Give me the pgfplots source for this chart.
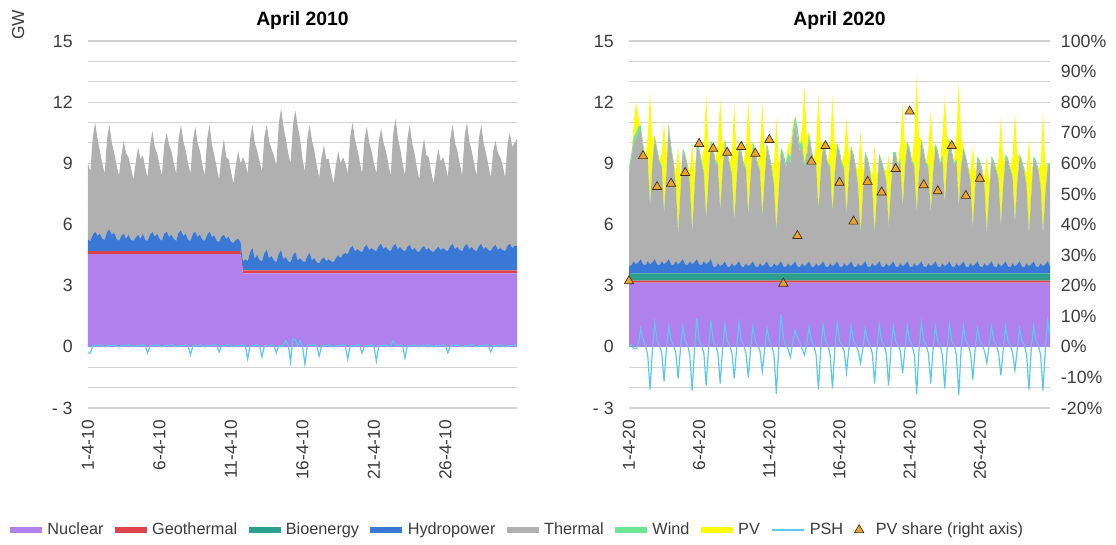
\documentclass[border=0pt]{standalone}
\usepackage{pgfplots}
\pgfplotsset{compat=1.18}
\usepackage{pgfplotstable}
\usepackage{fontspec}
\setmainfont{Liberation Sans}
\definecolor{nucc}{RGB}{176,128,236}
\definecolor{geoc}{RGB}{222,66,74}
\definecolor{bioc}{RGB}{42,160,140}
\definecolor{hydc}{RGB}{58,120,214}
\definecolor{thec}{RGB}{176,176,176}
\definecolor{winc}{RGB}{110,230,150}
\definecolor{pvc}{RGB}{252,252,10}
\definecolor{pshc}{RGB}{90,200,240}
\definecolor{tric}{RGB}{232,165,50}
\definecolor{trie}{RGB}{70,45,10}
\definecolor{gridc}{RGB}{210,210,210}
\definecolor{tickc}{RGB}{60,60,60}

% April 2010, 4-hourly, GW
\pgfplotstableread{
h nuc geo hyd the psh
0 4.55 0.15 0.55 3.75 -0.30
4 4.55 0.15 0.50 3.40 -0.30
8 4.55 0.15 0.80 4.80 0.05
12 4.55 0.15 0.95 5.35 0.05
16 4.55 0.15 0.75 4.75 0.05
20 4.55 0.15 0.85 4.05 0.10
24 4.55 0.15 0.60 3.70 0.05
28 4.55 0.15 0.55 3.25 0.00
32 4.55 0.15 0.95 4.55 0.05
36 4.55 0.15 1.05 5.15 0.05
40 4.55 0.15 0.80 4.50 0.05
44 4.55 0.15 0.90 3.90 0.10
48 4.55 0.15 0.60 3.60 0.05
52 4.55 0.15 0.50 3.20 0.00
56 4.55 0.15 0.75 3.95 0.05
60 4.55 0.15 0.85 4.55 0.05
64 4.55 0.15 0.60 4.20 0.05
68 4.55 0.15 0.80 3.80 0.10
72 4.55 0.15 0.55 3.55 0.05
76 4.55 0.15 0.50 3.00 0.00
80 4.55 0.15 0.65 3.65 0.05
84 4.55 0.15 0.80 4.30 0.05
88 4.55 0.15 0.60 3.90 0.05
92 4.55 0.15 0.85 3.85 0.10
96 4.55 0.15 0.55 3.55 0.05
100 4.55 0.15 0.50 3.10 -0.30
104 4.55 0.15 0.80 4.30 0.05
108 4.55 0.15 0.95 4.95 0.05
112 4.55 0.15 0.70 4.40 0.05
116 4.55 0.15 0.85 3.95 0.10
120 4.55 0.15 0.60 3.60 0.05
124 4.55 0.15 0.50 3.20 0.00
128 4.55 0.15 0.85 4.35 0.05
132 4.55 0.15 0.95 4.85 0.05
136 4.55 0.15 0.70 4.50 0.05
140 4.55 0.15 0.80 4.10 0.10
144 4.55 0.15 0.60 3.70 0.05
148 4.55 0.15 0.50 3.30 0.00
152 4.55 0.15 0.90 4.60 0.05
156 4.55 0.15 1.00 5.20 0.05
160 4.55 0.15 0.75 4.65 0.05
164 4.55 0.15 0.85 4.05 0.10
168 4.55 0.15 0.55 3.75 0.05
172 4.55 0.15 0.50 3.30 -0.40
176 4.55 0.15 0.85 4.55 0.05
180 4.55 0.15 0.95 5.15 0.05
184 4.55 0.15 0.70 4.60 0.05
188 4.55 0.15 0.80 4.10 0.10
192 4.55 0.15 0.55 3.65 0.05
196 4.55 0.15 0.50 3.20 0.00
200 4.55 0.15 0.80 4.70 0.05
204 4.55 0.15 0.95 5.25 0.05
208 4.55 0.15 0.70 4.50 0.05
212 4.55 0.15 0.75 3.95 0.10
216 4.55 0.15 0.50 3.60 0.05
220 4.55 0.15 0.45 3.05 -0.25
224 4.55 0.15 0.70 4.00 0.05
228 4.55 0.15 0.80 4.70 0.05
232 4.55 0.15 0.60 4.00 0.05
236 4.55 0.15 0.70 3.80 0.10
240 4.55 0.15 0.45 3.45 0.05
244 4.55 0.15 0.40 2.90 0.00
248 4.55 0.15 0.55 3.65 0.05
252 4.55 0.15 0.60 4.30 0.05
256 4.55 0.15 0.45 3.85 0.05
260 3.60 0.15 0.45 5.10 0.10
264 3.60 0.15 0.55 4.70 0.05
268 3.60 0.15 0.45 4.30 -0.60
272 3.60 0.15 0.90 5.55 0.05
276 3.60 0.15 1.10 6.05 0.05
280 3.60 0.15 0.60 5.65 0.05
284 3.60 0.15 0.75 5.10 0.10
288 3.60 0.15 0.50 4.85 0.05
292 3.60 0.15 0.45 4.40 -0.50
296 3.60 0.15 0.85 5.70 0.05
300 3.60 0.15 1.00 6.15 0.05
304 3.60 0.15 0.60 5.75 0.05
308 3.60 0.15 0.70 5.25 0.10
312 3.60 0.15 0.50 5.15 0.05
316 3.60 0.15 0.40 4.75 -0.30
320 3.60 0.15 0.80 6.35 0.05
324 3.60 0.15 1.00 6.95 0.05
328 3.60 0.15 0.55 6.50 0.05
332 3.60 0.15 0.65 5.80 0.30
336 3.60 0.15 0.45 5.30 0.10
340 3.60 0.15 0.40 4.85 -0.75
344 3.60 0.15 0.75 6.40 0.40
348 3.60 0.15 0.90 6.95 0.35
352 3.60 0.15 0.50 6.55 0.05
356 3.60 0.15 0.60 5.85 0.30
360 3.60 0.15 0.45 5.00 0.05
364 3.60 0.15 0.40 4.45 -0.85
368 3.60 0.15 0.70 5.75 0.05
372 3.60 0.15 0.85 6.30 0.10
376 3.60 0.15 0.50 5.85 0.05
380 3.60 0.15 0.60 5.25 0.10
384 3.60 0.15 0.40 4.75 0.05
388 3.60 0.15 0.35 4.20 -0.45
392 3.60 0.15 0.55 5.00 0.05
396 3.60 0.15 0.65 5.50 0.05
400 3.60 0.15 0.45 5.00 0.05
404 3.60 0.15 0.55 4.90 0.10
408 3.60 0.15 0.45 4.40 0.05
412 3.60 0.15 0.40 3.85 0.00
416 3.60 0.15 0.60 4.55 0.05
420 3.60 0.15 0.75 5.10 0.05
424 3.60 0.15 0.60 4.65 0.05
428 3.60 0.15 0.80 4.75 0.10
432 3.60 0.15 0.85 4.40 0.05
436 3.60 0.15 0.80 3.95 -0.60
440 3.60 0.15 1.10 5.45 0.05
444 3.60 0.15 1.20 6.05 0.05
448 3.60 0.15 0.95 5.50 0.05
452 3.60 0.15 1.05 4.90 0.10
456 3.60 0.15 0.95 4.40 0.05
460 3.60 0.15 0.90 3.85 -0.30
464 3.60 0.15 1.15 5.30 0.05
468 3.60 0.15 1.25 5.80 0.05
472 3.60 0.15 1.00 5.25 0.05
476 3.60 0.15 1.10 4.75 0.10
480 3.60 0.15 1.00 4.25 0.05
484 3.60 0.15 0.95 3.80 -0.70
488 3.60 0.15 1.20 5.15 0.05
492 3.60 0.15 1.30 5.65 0.05
496 3.60 0.15 1.05 5.20 0.05
500 3.60 0.15 1.15 4.70 0.10
504 3.60 0.15 1.00 4.25 0.05
508 3.60 0.15 0.95 3.70 0.00
512 3.60 0.15 1.20 5.45 0.30
516 3.60 0.15 1.30 6.15 0.10
520 3.60 0.15 1.05 5.50 0.05
524 3.60 0.15 1.15 4.80 0.10
528 3.60 0.15 1.00 4.25 0.05
532 3.60 0.15 0.95 3.70 -0.55
536 3.60 0.15 1.15 5.30 0.05
540 3.60 0.15 1.25 5.90 0.05
544 3.60 0.15 1.00 5.25 0.05
548 3.60 0.15 1.10 4.65 0.10
552 3.60 0.15 0.95 4.10 0.05
556 3.60 0.15 0.90 3.55 0.00
560 3.60 0.15 1.10 4.65 0.05
564 3.60 0.15 1.20 5.25 0.05
568 3.60 0.15 1.00 4.65 0.05
572 3.60 0.15 1.10 4.45 0.10
576 3.60 0.15 0.95 3.90 0.05
580 3.60 0.15 0.90 3.35 0.00
584 3.60 0.15 1.05 4.20 0.05
588 3.60 0.15 1.15 4.80 0.05
592 3.60 0.15 1.00 4.35 0.05
596 3.60 0.15 1.10 4.45 0.10
600 3.60 0.15 1.00 4.15 0.05
604 3.60 0.15 0.95 3.60 -0.30
608 3.60 0.15 1.20 5.25 0.05
612 3.60 0.15 1.30 5.85 0.05
616 3.60 0.15 1.05 5.20 0.05
620 3.60 0.15 1.15 4.70 0.10
624 3.60 0.15 1.00 4.25 0.05
628 3.60 0.15 0.95 3.70 0.00
632 3.60 0.15 1.20 5.35 0.05
636 3.60 0.15 1.30 5.95 0.05
640 3.60 0.15 1.05 5.30 0.05
644 3.60 0.15 1.15 4.70 0.10
648 3.60 0.15 1.00 4.25 0.05
652 3.60 0.15 0.95 3.70 0.00
656 3.60 0.15 1.20 5.25 0.05
660 3.60 0.15 1.30 5.85 0.05
664 3.60 0.15 1.05 5.20 0.05
668 3.60 0.15 1.15 4.60 0.10
672 3.60 0.15 1.00 4.15 0.05
676 3.60 0.15 0.95 3.60 -0.25
680 3.60 0.15 1.15 4.70 0.05
684 3.60 0.15 1.25 5.10 0.05
688 3.60 0.15 1.00 4.75 0.05
692 3.60 0.15 1.10 4.45 0.10
696 3.60 0.15 1.00 4.15 0.05
700 3.60 0.15 0.95 3.60 0.00
704 3.60 0.15 1.20 4.95 0.05
708 3.60 0.15 1.30 5.45 0.05
712 3.60 0.15 1.10 4.95 0.05
716 3.60 0.15 1.20 5.05 0.10
720 3.60 0.15 1.20 5.25 0.05
}\tabA

% April 2020, 4-hourly, GW
\pgfplotstableread{
h nuc geo bio hyd the wind pv psh
0 3.05 0.10 0.35 0.45 4.65 0.20 0.00 0.00
4 3.15 0.10 0.35 0.40 5.20 0.25 0.00 0.10
8 3.15 0.10 0.35 0.60 5.80 0.30 0.60 -0.10
12 3.15 0.10 0.35 0.45 6.15 0.30 1.50 -0.10
16 3.15 0.10 0.35 0.55 6.35 0.30 0.50 0.10
20 3.15 0.10 0.35 0.70 6.30 0.25 0.00 0.90
24 3.15 0.10 0.35 0.45 5.75 0.20 0.00 0.40
28 3.15 0.10 0.35 0.40 5.20 0.15 0.00 0.10
32 3.15 0.10 0.35 0.60 5.00 0.10 1.00 -0.40
36 3.15 0.10 0.35 0.45 2.85 0.10 5.50 -2.10
40 3.15 0.10 0.35 0.55 4.75 0.10 1.20 -0.20
44 3.15 0.10 0.35 0.70 5.90 0.15 0.00 1.20
48 3.15 0.10 0.35 0.45 5.55 0.15 0.00 0.30
52 3.15 0.10 0.35 0.40 5.00 0.15 0.00 0.10
56 3.15 0.10 0.35 0.60 4.60 0.10 0.60 -0.30
60 3.15 0.10 0.35 0.45 2.45 0.10 4.40 -1.70
64 3.15 0.10 0.35 0.55 4.35 0.10 0.80 -0.10
68 3.15 0.10 0.35 0.70 6.50 0.15 0.00 1.00
72 3.15 0.10 0.35 0.45 5.65 0.15 0.00 0.30
76 3.15 0.10 0.35 0.40 5.00 0.15 0.00 0.10
80 3.15 0.10 0.35 0.60 3.70 0.10 0.50 -0.30
84 3.15 0.10 0.35 0.45 1.45 0.10 4.20 -1.55
88 3.15 0.10 0.35 0.55 3.45 0.10 0.70 -0.10
92 3.15 0.10 0.35 0.70 5.30 0.15 0.00 1.00
96 3.15 0.10 0.35 0.45 5.25 0.15 0.00 0.30
100 3.15 0.10 0.35 0.40 4.80 0.15 0.00 0.10
104 3.15 0.10 0.35 0.60 3.80 0.10 0.50 -0.40
108 3.15 0.10 0.35 0.45 1.55 0.10 4.30 -2.15
112 3.15 0.10 0.35 0.55 3.55 0.10 0.70 -0.10
116 3.15 0.10 0.35 0.70 5.50 0.15 0.00 1.40
120 3.15 0.10 0.35 0.45 5.55 0.15 0.00 0.30
124 3.15 0.10 0.35 0.40 5.00 0.15 0.00 0.10
128 3.15 0.10 0.35 0.60 4.30 0.10 1.10 -0.30
132 3.15 0.10 0.35 0.45 2.15 0.10 6.10 -1.90
136 3.15 0.10 0.35 0.55 4.05 0.10 1.40 -0.10
140 3.15 0.10 0.35 0.70 5.70 0.15 0.00 1.30
144 3.15 0.10 0.35 0.35 5.65 0.15 0.00 0.30
148 3.15 0.10 0.35 0.30 5.10 0.15 0.00 0.10
152 3.15 0.10 0.35 0.50 4.80 0.10 1.00 -0.30
156 3.15 0.10 0.35 0.35 2.65 0.10 5.50 -1.80
160 3.15 0.10 0.35 0.45 4.55 0.10 1.20 -0.10
164 3.15 0.10 0.35 0.60 5.80 0.15 0.00 1.10
168 3.15 0.10 0.35 0.35 5.55 0.15 0.00 0.30
172 3.15 0.10 0.35 0.30 5.00 0.15 0.00 0.10
176 3.15 0.10 0.35 0.50 4.30 0.10 1.00 -0.30
180 3.15 0.10 0.35 0.35 2.15 0.10 5.70 -1.55
184 3.15 0.10 0.35 0.45 4.05 0.10 1.30 -0.10
188 3.15 0.10 0.35 0.60 5.70 0.15 0.00 1.20
192 3.15 0.10 0.35 0.35 5.55 0.15 0.00 0.30
196 3.15 0.10 0.35 0.30 5.00 0.15 0.00 0.10
200 3.15 0.10 0.35 0.50 4.60 0.10 1.00 -0.30
204 3.15 0.10 0.35 0.35 2.45 0.10 5.60 -1.50
208 3.15 0.10 0.35 0.45 4.35 0.10 1.30 -0.10
212 3.15 0.10 0.35 0.60 5.70 0.15 0.00 1.00
216 3.15 0.10 0.35 0.35 5.55 0.15 0.00 0.30
220 3.15 0.10 0.35 0.30 5.00 0.15 0.00 0.10
224 3.15 0.10 0.35 0.50 4.50 0.10 1.00 -0.20
228 3.15 0.10 0.35 0.35 2.35 0.10 5.60 -1.20
232 3.15 0.10 0.35 0.45 4.25 0.10 1.20 -0.10
236 3.15 0.10 0.35 0.60 5.60 0.15 0.00 0.90
240 3.15 0.10 0.35 0.35 5.35 0.15 0.00 0.30
244 3.15 0.10 0.35 0.30 4.80 0.15 0.00 0.10
248 3.15 0.10 0.35 0.50 3.80 0.10 1.00 -0.40
252 3.15 0.10 0.35 0.35 1.65 0.10 5.60 -2.30
256 3.15 0.10 0.35 0.45 3.55 0.10 1.20 -0.10
260 3.15 0.10 0.35 0.60 5.40 0.15 0.00 1.60
264 3.15 0.10 0.35 0.35 5.35 0.20 0.00 0.40
268 3.15 0.10 0.35 0.30 4.90 0.20 0.00 0.10
272 3.15 0.10 0.35 0.50 5.10 0.30 0.40 -0.10
276 3.15 0.10 0.35 0.35 5.05 0.30 0.70 -0.50
280 3.15 0.10 0.35 0.45 6.15 0.35 0.30 0.20
284 3.15 0.10 0.35 0.60 6.80 0.30 0.00 0.80
288 3.15 0.10 0.35 0.35 6.45 0.40 0.00 0.50
292 3.15 0.10 0.35 0.30 5.70 0.30 0.00 0.20
296 3.15 0.10 0.35 0.50 5.70 0.30 0.70 -0.10
300 3.15 0.10 0.35 0.35 4.75 0.30 3.80 -0.40
304 3.15 0.10 0.35 0.45 5.25 0.25 0.80 0.10
308 3.15 0.10 0.35 0.60 6.10 0.20 0.00 1.00
312 3.15 0.10 0.35 0.35 5.65 0.15 0.00 0.30
316 3.15 0.10 0.35 0.30 5.10 0.15 0.00 0.10
320 3.15 0.10 0.35 0.50 4.80 0.10 1.00 -0.40
324 3.15 0.10 0.35 0.35 2.65 0.10 5.70 -2.10
328 3.15 0.10 0.35 0.45 4.55 0.10 1.30 -0.10
332 3.15 0.10 0.35 0.60 5.70 0.15 0.00 1.10
336 3.15 0.10 0.35 0.35 5.55 0.15 0.00 0.30
340 3.15 0.10 0.35 0.30 5.00 0.15 0.00 0.10
344 3.15 0.10 0.35 0.50 4.70 0.10 1.00 -0.40
348 3.15 0.10 0.35 0.35 2.55 0.10 5.70 -2.05
352 3.15 0.10 0.35 0.45 4.45 0.10 1.30 -0.10
356 3.15 0.10 0.35 0.60 5.60 0.15 0.00 1.20
360 3.15 0.10 0.35 0.35 5.55 0.15 0.00 0.30
364 3.15 0.10 0.35 0.30 5.00 0.15 0.00 0.10
368 3.15 0.10 0.35 0.50 4.60 0.10 0.70 -0.20
372 3.15 0.10 0.35 0.35 2.45 0.10 4.80 -1.25
376 3.15 0.10 0.35 0.45 4.35 0.10 0.90 -0.10
380 3.15 0.10 0.35 0.60 5.50 0.15 0.00 1.00
384 3.15 0.10 0.35 0.35 5.35 0.15 0.00 0.30
388 3.15 0.10 0.35 0.30 4.80 0.15 0.00 0.10
392 3.15 0.10 0.35 0.50 3.70 0.10 0.80 -0.20
396 3.15 0.10 0.35 0.35 1.55 0.10 5.00 -0.80
400 3.15 0.10 0.35 0.45 3.45 0.10 1.00 -0.10
404 3.15 0.10 0.35 0.60 5.20 0.15 0.00 0.90
408 3.15 0.10 0.35 0.35 5.15 0.15 0.00 0.30
412 3.15 0.10 0.35 0.30 4.70 0.15 0.00 0.10
416 3.15 0.10 0.35 0.50 3.70 0.10 0.50 -0.30
420 3.15 0.10 0.35 0.35 1.55 0.10 4.20 -1.80
424 3.15 0.10 0.35 0.45 3.45 0.10 0.70 -0.10
428 3.15 0.10 0.35 0.60 5.10 0.15 0.00 1.10
432 3.15 0.10 0.35 0.35 5.05 0.15 0.00 0.30
436 3.15 0.10 0.35 0.30 4.70 0.15 0.00 0.10
440 3.15 0.10 0.35 0.50 4.00 0.10 0.40 -0.30
444 3.15 0.10 0.35 0.35 1.85 0.10 3.50 -1.90
448 3.15 0.10 0.35 0.45 3.75 0.10 0.50 -0.10
452 3.15 0.10 0.35 0.60 5.20 0.15 0.00 1.00
456 3.15 0.10 0.35 0.35 5.45 0.15 0.00 0.30
460 3.15 0.10 0.35 0.30 4.90 0.15 0.00 0.10
464 3.15 0.10 0.35 0.50 5.00 0.10 0.80 -0.20
468 3.15 0.10 0.35 0.35 2.85 0.10 5.10 -1.30
472 3.15 0.10 0.35 0.45 4.75 0.10 1.00 -0.10
476 3.15 0.10 0.35 0.60 5.70 0.15 0.00 1.00
480 3.15 0.10 0.35 0.35 5.65 0.15 0.00 0.30
484 3.15 0.10 0.35 0.30 5.10 0.15 0.00 0.10
488 3.15 0.10 0.35 0.50 4.70 0.10 1.40 -0.40
492 3.15 0.10 0.35 0.35 2.55 0.10 6.70 -2.30
496 3.15 0.10 0.35 0.45 4.45 0.10 1.70 -0.10
500 3.15 0.10 0.35 0.60 5.80 0.15 0.00 1.20
504 3.15 0.10 0.35 0.35 5.55 0.15 0.00 0.30
508 3.15 0.10 0.35 0.30 5.00 0.15 0.00 0.10
512 3.15 0.10 0.35 0.50 4.70 0.10 0.80 -0.30
516 3.15 0.10 0.35 0.35 2.55 0.10 5.00 -1.80
520 3.15 0.10 0.35 0.45 4.45 0.10 1.00 -0.10
524 3.15 0.10 0.35 0.60 5.60 0.15 0.00 1.00
528 3.15 0.10 0.35 0.35 5.55 0.15 0.00 0.30
532 3.15 0.10 0.35 0.30 5.00 0.15 0.00 0.10
536 3.15 0.10 0.35 0.50 5.20 0.10 0.90 -0.40
540 3.15 0.10 0.35 0.35 3.05 0.10 5.20 -2.05
544 3.15 0.10 0.35 0.45 4.95 0.10 1.10 -0.10
548 3.15 0.10 0.35 0.60 5.80 0.15 0.00 1.10
552 3.15 0.10 0.35 0.35 5.55 0.15 0.00 0.30
556 3.15 0.10 0.35 0.30 5.00 0.15 0.00 0.10
560 3.15 0.10 0.35 0.50 5.00 0.10 1.20 -0.40
564 3.15 0.10 0.35 0.35 2.85 0.10 6.10 -2.35
568 3.15 0.10 0.35 0.45 4.75 0.10 1.40 -0.10
572 3.15 0.10 0.35 0.60 5.40 0.15 0.00 1.00
576 3.15 0.10 0.35 0.35 5.25 0.15 0.00 0.30
580 3.15 0.10 0.35 0.30 4.80 0.15 0.00 0.10
584 3.15 0.10 0.35 0.50 4.00 0.10 0.40 -0.30
588 3.15 0.10 0.35 0.35 1.85 0.10 3.95 -1.60
592 3.15 0.10 0.35 0.45 3.75 0.10 0.60 -0.10
596 3.15 0.10 0.35 0.60 5.00 0.15 0.00 0.90
600 3.15 0.10 0.35 0.35 5.05 0.15 0.00 0.30
604 3.15 0.10 0.35 0.30 4.70 0.15 0.00 0.10
608 3.15 0.10 0.35 0.50 3.70 0.10 0.40 -0.20
612 3.15 0.10 0.35 0.35 1.60 0.10 3.75 -0.80
616 3.15 0.10 0.35 0.45 3.45 0.10 0.50 0.10
620 3.15 0.10 0.35 0.60 5.00 0.15 0.00 1.00
624 3.15 0.10 0.35 0.35 5.05 0.15 0.00 0.30
628 3.15 0.10 0.35 0.30 4.70 0.15 0.00 0.10
632 3.15 0.10 0.35 0.50 4.10 0.10 0.90 -0.30
636 3.15 0.10 0.35 0.35 1.95 0.10 5.30 -1.40
640 3.15 0.10 0.35 0.45 3.85 0.10 1.10 -0.10
644 3.15 0.10 0.35 0.60 5.10 0.15 0.00 1.00
648 3.15 0.10 0.35 0.35 5.15 0.15 0.00 0.30
652 3.15 0.10 0.35 0.30 4.70 0.15 0.00 0.10
656 3.15 0.10 0.35 0.50 4.20 0.10 0.90 -0.30
660 3.15 0.10 0.35 0.35 2.10 0.10 5.35 -1.15
664 3.15 0.10 0.35 0.45 3.95 0.10 1.20 -0.10
668 3.15 0.10 0.35 0.60 5.10 0.15 0.00 0.90
672 3.15 0.10 0.35 0.35 5.05 0.15 0.00 0.30
676 3.15 0.10 0.35 0.30 4.70 0.15 0.00 0.10
680 3.15 0.10 0.35 0.50 3.70 0.10 0.60 -0.40
684 3.15 0.10 0.35 0.35 1.55 0.10 4.60 -2.10
688 3.15 0.10 0.35 0.45 3.45 0.10 0.80 -0.10
692 3.15 0.10 0.35 0.60 5.00 0.15 0.00 1.00
696 3.15 0.10 0.35 0.35 5.05 0.15 0.00 0.30
700 3.15 0.10 0.35 0.30 4.70 0.15 0.00 0.10
704 3.15 0.10 0.35 0.50 3.70 0.10 1.00 -0.40
708 3.15 0.10 0.35 0.35 1.55 0.10 5.90 -2.15
712 3.15 0.10 0.35 0.45 3.45 0.10 1.30 -0.10
716 3.15 0.10 0.35 0.60 4.60 0.15 0.00 1.30
720 3.15 0.10 0.35 0.35 4.95 0.15 0.00 0.60
}\tabB

% PV share, daily, percent (right axis)
\pgfplotstableread{
h pct
0 21.5
24 62.4
48 52.3
72 53.4
96 56.9
120 66.4
144 64.8
168 63.5
192 65.4
216 63.2
240 67.7
264 20.7
288 36.3
312 60.6
336 65.7
360 53.7
384 41.0
408 54.0
432 50.5
456 58.2
480 77.0
504 52.9
528 50.9
552 65.7
576 49.4
600 55.0
}\tabC

\pgfplotsset{
  swatch/.style={legend image code/.code={\fill[##1] (0pt,-2.6pt) rectangle (24pt,2.6pt);}},
  lineswatch/.style={legend image code/.code={\draw[##1] (0pt,0pt) -- (24pt,0pt);}},
  panel/.style={
    scale only axis, height=275.25pt,
    xmin=0, xmax=720, ymin=-3, ymax=15,
    axis x line*=bottom, axis y line*=left,
    axis line style={draw=none},
    major tick length=0pt, minor tick length=0pt,
    ytick={-3,0,3,6,9,12,15},
    yticklabels={- 3,0,3,6,9,12,15},
    minor ytick={-2,-1,1,2,4,5,7,8,10,11,13,14},
    ymajorgrids, yminorgrids,
    major grid style={draw=gridc, line width=0.8pt},
    minor grid style={draw=gridc, line width=0.8pt},
    xtick={0,120,240,360,480,600},
    tick label style={font=\fontsize{13.3}{15}\selectfont, text=tickc},
    xticklabel style={rotate=90, anchor=east, font=\fontsize{13}{15}\selectfont},
    xticklabel shift=5.5pt,
    yticklabel shift=8pt,
    stack plots=y,
    title style={font=\bfseries\fontsize{14.5}{16}\selectfont, at={(0.5,1)}, anchor=base, yshift=5.5pt},
  },
  ovl/.style={scale only axis, height=275.25pt, xmin=0, xmax=720, ymin=-3, ymax=15, hide axis},
}

\begin{document}
\begin{tikzpicture}
\useasboundingbox (0,0) rectangle (837pt,408.75pt);

% ---------------- April 2010 ----------------
\begin{axis}[panel, at={(66pt,102.75pt)}, anchor=south west, width=321.75pt,
  title={April 2010},
  xticklabels={1-4-10,6-4-10,11-4-10,16-4-10,21-4-10,26-4-10},
  ylabel={GW},
  ylabel style={at={(axis description cs:-0.163,1.044)}, anchor=center, font=\fontsize{13}{15}\selectfont, text=tickc}]
\addplot[fill=nucc, draw=none] table[x=h,y=nuc]{\tabA} \closedcycle;
\addplot[fill=geoc, draw=none] table[x=h,y=geo]{\tabA} \closedcycle;
\addplot[fill=hydc, draw=none] table[x=h,y=hyd]{\tabA} \closedcycle;
\addplot[fill=thec, draw=none] table[x=h,y=the]{\tabA} \closedcycle;
\end{axis}
\begin{axis}[ovl, at={(66pt,102.75pt)}, anchor=south west, width=321.75pt]
\addplot[pshc, line width=0.9pt] table[x=h,y=psh]{\tabA};
\end{axis}

% ---------------- April 2020 ----------------
\begin{axis}[panel, at={(471.75pt,102.75pt)}, anchor=south west, width=315.75pt,
  title={April 2020},
  xticklabels={1-4-20,6-4-20,11-4-20,16-4-20,21-4-20,26-4-20}]
\addplot[fill=nucc, draw=none] table[x=h,y=nuc]{\tabB} \closedcycle;
\addplot[fill=geoc, draw=none] table[x=h,y=geo]{\tabB} \closedcycle;
\addplot[fill=bioc, draw=none] table[x=h,y=bio]{\tabB} \closedcycle;
\addplot[fill=hydc, draw=none] table[x=h,y=hyd]{\tabB} \closedcycle;
\addplot[fill=thec, draw=none] table[x=h,y=the]{\tabB} \closedcycle;
\addplot[fill=winc, draw=none] table[x=h,y=wind]{\tabB} \closedcycle;
\addplot[fill=pvc, draw=none] table[x=h,y=pv]{\tabB} \closedcycle;
\end{axis}
\begin{axis}[ovl, at={(471.75pt,102.75pt)}, anchor=south west, width=315.75pt,
  legend columns=9,
  legend style={draw=none, fill=none, at={(axis description cs:-0.2637,-0.3324)}, anchor=center,
    font=\fontsize{12.2}{14}\selectfont, text=tickc,
    /tikz/every odd column/.append style={column sep=2pt},
    /tikz/every even column/.append style={column sep=6.5pt}}]
\addlegendimage{swatch, fill=nucc, draw=none}\addlegendentry{Nuclear}
\addlegendimage{swatch, fill=geoc, draw=none}\addlegendentry{Geothermal}
\addlegendimage{swatch, fill=bioc, draw=none}\addlegendentry{Bioenergy}
\addlegendimage{swatch, fill=hydc, draw=none}\addlegendentry{Hydropower}
\addlegendimage{swatch, fill=thec, draw=none}\addlegendentry{Thermal}
\addlegendimage{swatch, fill=winc, draw=none}\addlegendentry{Wind}
\addlegendimage{swatch, fill=pvc, draw=none}\addlegendentry{PV}
\addplot[pshc, line width=0.9pt, lineswatch] table[x=h,y=psh]{\tabB};
\addlegendentry{PSH\hspace{6pt}}
\addlegendimage{only marks, mark=triangle*, mark size=4pt, mark options={fill=tric, draw=trie, line width=0.5pt}}
\addlegendentry{\hspace{5pt}PV share (right axis)}
\end{axis}
\begin{axis}[scale only axis, at={(471.75pt,102.75pt)}, anchor=south west, width=315.75pt, height=275.25pt,
  xmin=0, xmax=720, ymin=-20, ymax=100,
  axis x line=none, axis y line*=right, axis line style={draw=none},
  major tick length=0pt,
  ytick={-20,-10,0,10,20,30,40,50,60,70,80,90,100},
  yticklabels={-20\%,-10\%,0\%,10\%,20\%,30\%,40\%,50\%,60\%,70\%,80\%,90\%,100\%},
  tick label style={font=\fontsize{13.3}{15}\selectfont, text=tickc},
  yticklabel shift=4.7pt]
\addplot[only marks, mark=triangle*, mark size=4pt, mark options={fill=tric, draw=trie, line width=0.5pt}] table[x=h,y=pct]{\tabC};
\end{axis}
\end{tikzpicture}
\end{document}
